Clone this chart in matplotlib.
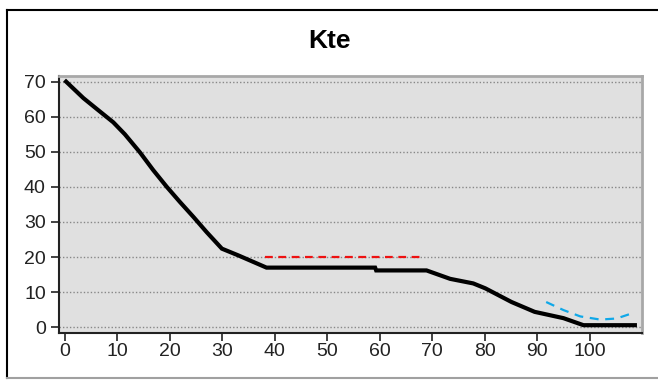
import matplotlib
matplotlib.use('Agg')
import matplotlib.pyplot as plt
from matplotlib.lines import Line2D

plt.rcParams['font.family'] = ['Liberation Sans', 'DejaVu Sans']

# Данные
kte_x = [0.2, 3.5, 6.3, 9.2, 11.4, 14.3, 16.8, 19.4, 21.9, 24.5, 27.0, 29.9,
         33.0, 38.4, 59.1, 59.3, 68.9, 73.4, 77.8, 80.1, 85.1, 89.5, 95.0, 98.8, 108.6]
kte_y = [70.0, 65.3, 61.9, 58.4, 55.0, 49.8, 44.8, 40.0, 35.7, 31.4, 27.1, 22.4,
         20.5, 17.0, 17.0, 16.2, 16.2, 13.8, 12.5, 11.1, 7.2, 4.4, 2.6, 0.6, 0.6]

ref_x = [38.1, 67.7]
ref_y = [20.0, 20.0]

fit_x = [91.7, 95.0, 98.2, 102.0, 105.1, 108.3]
fit_y = [7.2, 4.9, 3.1, 2.2, 2.5, 4.1]

x_ticks = [0, 10, 20, 30, 40, 50, 60, 70, 80, 90, 100]
y_ticks = [0, 10, 20, 30, 40, 50, 60, 70]

fig = plt.figure(figsize=(6.58, 3.80), dpi=100)
ax = fig.add_axes([0.0897, 0.123, 0.8855, 0.678])
ax.set_facecolor('#e0e0e0')

ax.plot(kte_x, kte_y, color='black', lw=3.0, solid_joinstyle='miter', zorder=3)
ax.plot(ref_x, ref_y, color='#ee1111', lw=1.6, dashes=(3.5, 2.5), zorder=2)
ax.plot(fit_x, fit_y, color='#10a8e8', lw=1.6, dashes=(4, 3), zorder=2)

ax.set_xlim(-1.14, 109.9)
ax.set_ylim(-1.7, 71.7)
ax.set_xticks(x_ticks)
ax.set_yticks(y_ticks)
ax.yaxis.grid(True, color='#888888', linestyle=(0, (1, 1.5)), lw=1.0)
ax.set_axisbelow(True)

ax.tick_params(axis='both', direction='out', length=6, width=1.2, labelsize=14,
               colors='#222222')
ax.tick_params(axis='x', pad=1)
ax.tick_params(axis='y', pad=3.5)

for side in ['left', 'bottom']:
    ax.spines[side].set_color('#222222')
    ax.spines[side].set_linewidth(1.5)
for side in ['top', 'right']:
    ax.spines[side].set_color('#a8a8a8')
    ax.spines[side].set_linewidth(2.0)

fig.text(0.501, 1 - 41 / 380, 'Kte', ha='center', va='center', fontsize=19,
         fontweight='bold')

# рамка вокруг графика
fig.add_artist(Line2D([7 / 658, 7 / 658], [1 - 378 / 380, 1 - 10 / 380],
                      color='black', lw=1.5))
fig.add_artist(Line2D([7 / 658, 1], [1 - 10 / 380, 1 - 10 / 380],
                      color='black', lw=1.5))
fig.add_artist(Line2D([7 / 658, 1], [1 - 378 / 380, 1 - 378 / 380],
                      color='#a0a0a0', lw=1.5))

fig.savefig('out.png', dpi=100)
